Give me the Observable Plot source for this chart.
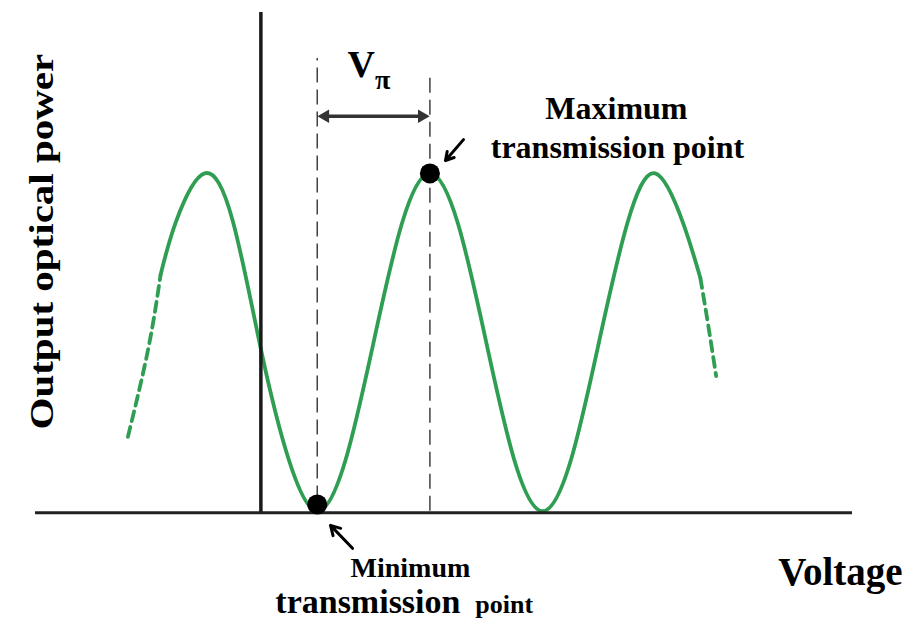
<!DOCTYPE html>
<html><head><meta charset="utf-8">
<script src="https://cdn.jsdelivr.net/npm/d3@7"></script>
<script src="https://cdn.jsdelivr.net/npm/@observablehq/plot@0.6"></script>
<style>html,body{margin:0;padding:0;background:#fff;}</style>
</head><body><div id="chart"></div>
<script>
// Transfer curve (voltage in units of Vπ, power normalised 0..1)
const solidVoltage = [-0.89, -0.75, -0.5, -0.25, 0, 0.25, 0.5, 0.75, 1.0, 1.25, 1.5, 1.75, 2.0, 2.25, 2.5, 2.75, 3.0, 3.25, 3.5, 3.75, 3.90];
const solidPower   = [0.70, 0.86, 1.0, 0.86, 0.48, 0.15, 0.0, 0.15, 0.5, 0.85, 1.0, 0.85, 0.5, 0.15, 0.0, 0.15, 0.5, 0.85, 1.0, 0.85, 0.69];
const leftDashVoltage  = [-1.18, -1.0, -0.89];
const leftDashPower    = [0.22, 0.48, 0.70];
const rightDashVoltage = [3.90, 3.97, 4.04];
const rightDashPower   = [0.69, 0.55, 0.40];
// Marked points
const minPoint = {v: 0.5, p: 0.02};
const maxPoint = {v: 1.5, p: 1.0};
const vpiSpan = [0.5, 1.5];
// Texts
const yLabel = "Output optical power";
const xLabel = "Voltage";
const maxLabel = ["Maximum", "transmission point"];
const minLabel = ["Minimum", "transmission", "point"];

const toPts = (vs, ps) => vs.map((v, i) => ({v, p: ps[i]}));
const solid = toPts(solidVoltage, solidPower);
const leftDash = toPts(leftDashVoltage, leftDashPower);
const rightDash = toPts(rightDashVoltage, rightDashPower);

const green = "#2f9e52";
const serif = "'Liberation Serif', 'Times New Roman', serif";
const lbl = (text, v, p, fs, anchor, extra = {}) =>
  Plot.text([{text, v, p}], {x: "v", y: "p", text: "text", fontSize: fs, fontWeight: "bold",
    fontFamily: serif, fill: "#000", textAnchor: anchor, dy: -0.32 * fs, ...extra});

const chart = Plot.plot({
  width: 912, height: 621,
  marginLeft: 35, marginRight: 60, marginTop: 4, marginBottom: 9,
  x: {domain: [-2, 5.25], axis: null},
  y: {domain: [-0.3, 1.5], axis: null},
  marks: [
    // dashed guide lines
    Plot.ruleX([vpiSpan[0]], {y1: 0.03, y2: 1.34, stroke: "#333", strokeWidth: 1.4, strokeDasharray: "15,7"}),
    Plot.ruleX([vpiSpan[1]], {y1: 0.0, y2: 1.30, stroke: "#333", strokeWidth: 1.4, strokeDasharray: "15,7"}),
    // curve
    Plot.line(solid, {x: "v", y: "p", curve: "natural", stroke: green, strokeWidth: 3.8}),
    Plot.line(leftDash, {x: "v", y: "p", curve: "natural", stroke: green, strokeWidth: 3.8, strokeDasharray: "10,6"}),
    Plot.line(rightDash, {x: "v", y: "p", curve: "natural", stroke: green, strokeWidth: 3.8, strokeDasharray: "10,6"}),
    // axes lines
    Plot.ruleX([0], {y1: -0.006, y2: 1.476, stroke: "#1a1a1a", strokeWidth: 3.5}),
    Plot.ruleY([-0.005], {x1: -2, x2: 5.25, stroke: "#222", strokeWidth: 3}),
    // Vπ double arrow
    Plot.ruleY([1.169], {x1: vpiSpan[0] + 0.08, x2: vpiSpan[1] - 0.08, stroke: "#333", strokeWidth: 3.5}),
    Plot.dot([{v: vpiSpan[1], p: 1.169}], {x: "v", y: "p", symbol: "triangle", rotate: 90, r: 5, fill: "#333", stroke: "none", dx: -8}),
    Plot.dot([{v: vpiSpan[0], p: 1.169}], {x: "v", y: "p", symbol: "triangle", rotate: -90, r: 5, fill: "#333", stroke: "none", dx: 8}),
    // points
    Plot.dot([minPoint, maxPoint], {x: "v", y: "p", r: 10, fill: "#000"}),
    // pointer arrows
    Plot.arrow([{x1: 0.813, y1: -0.110, x2: 0.618, y2: -0.042}], {x1: "x1", y1: "y1", x2: "x2", y2: "y2", stroke: "#000", strokeWidth: 3, headLength: 13}),
    Plot.arrow([{x1: 1.798, y1: 1.100, x2: 1.638, y2: 1.038}], {x1: "x1", y1: "y1", x2: "x2", y2: "y2", stroke: "#000", strokeWidth: 3, headLength: 13}),
    // labels
    lbl("V", 0.768, 1.284, 38, "start"),
    lbl("π", 1.012, 1.251, 28, "start"),
    lbl(maxLabel[0], 3.155, 1.162, 32, "middle"),
    lbl(maxLabel[1], 3.164, 1.047, 32, "middle"),
    lbl(minLabel[0], 1.327, -0.196, 28, "middle"),
    lbl(minLabel[1], 0.128, -0.300, 34, "start"),
    lbl(minLabel[2], 1.903, -0.300, 26, "start"),
    lbl(xLabel, 4.592, -0.22, 39, "start"),
    Plot.text([{text: yLabel, v: -1.942, p: 0.798}], {x: "v", y: "p", text: "text", rotate: -90,
      fontSize: 41, fontWeight: "bold", fontFamily: serif, fill: "#000", textAnchor: "middle"})
  ]
});
// compress the rotated axis title horizontally, as in the picture
d3.select(chart).selectAll("text").filter(function () { return this.textContent === yLabel; })
  .attr("transform", function () { return (this.getAttribute("transform") || "") + " scale(1,0.8)"; });
document.getElementById("chart").appendChild(chart);
</script>
</body></html>
